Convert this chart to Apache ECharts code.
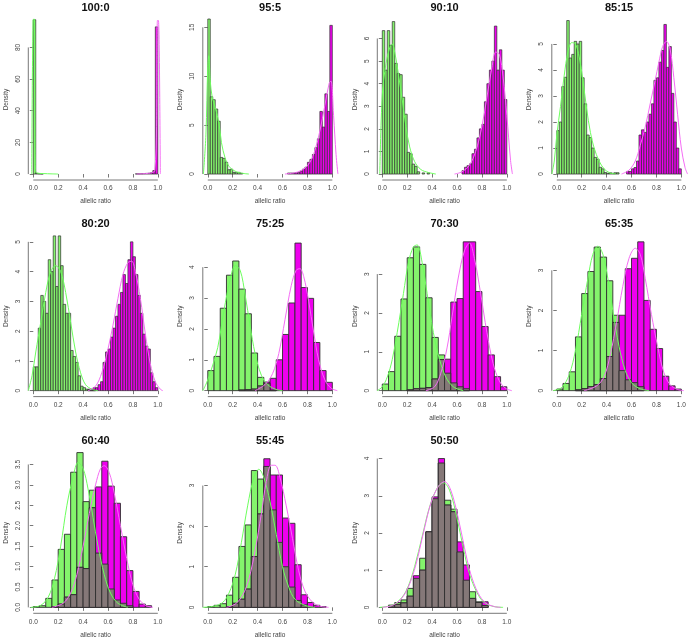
<!DOCTYPE html>
<html><head><meta charset="utf-8">
<script src="https://cdn.jsdelivr.net/npm/echarts@6/dist/echarts.min.js"></script>
<style>html,body{margin:0;padding:0;background:#fff}#c{width:689px;height:640px}</style>
</head><body><div id="c"></div>
<script>
// ---------------- data ----------------
const titles = ['100:0','95:5','90:10','85:15','80:20','75:25','70:30','65:35','60:40','55:45','50:50'];
const xTicks = [0, 0.2, 0.4, 0.6, 0.8, 1.0];
const yLims = [94.2, 15.24, 6.6, 5.73, 5.0, 4.82, 3.83, 3.71, 3.645, 3.665, 4.0];
const yTicks = [[0,20,40,60,80],[0,5,10,15],[0,1,2,3,4,5,6],[0,1,2,3,4,5],[0,1,2,3,4,5],[0,1,2,3,4],[0,1,2,3],[0,1,2,3],[0,0.5,1,1.5,2,2.5,3,3.5],[0,1,2,3],[0,1,2,3,4]];
const yDecimals = [0,0,0,0,0,0,0,0,1,0,0];
const binWidths = [0.02,0.02,0.02,0.02,0.02,0.05,0.05,0.05,0.05,0.05,0.05];
const greenStarts = [0,0,0,0,0,0,0,0,0,0,0.05];
const magentaStarts = [0.82,0.64,0.64,0.56,0.44,0.25,0.2,0.15,0.15,0.15,0.05];

const green100_0 = [97.5,0.4,0.2,0.1];
const magenta100_0 = [0.1,0.1,0.2,0.3,0.4,0.5,0.8,2.2,93.0];
const green95_5 = [17,7.9,7.6,6.65,5.4,1.7,1.6,1.2,0.44,0.5,0.17,0.14,0.17,0.07];
const magenta95_5 = [0.1,0.1,0.1,0.15,0.15,0.3,0.5,0.7,1.2,1.5,2.0,2.7,3.6,6.4,4.8,8.2,6.4,15.2];
const green90_10 = [6.35,4.6,6.35,5.7,6.75,4.9,4.45,4.4,3.4,2.65,0.96,0.9,0.44,0.34,0.1,0,0.05,0,0.05];
const magenta90_10 = [0.15,0.3,0.37,0.45,0.9,1.1,1.6,2.0,2.2,3.2,4.0,4.6,5.0,6.55,4.6,5.5,4.6,3.3];
const green85_15 = [1.67,2.0,3.36,3.72,5.9,4.46,4.6,5.1,5.0,5.1,3.7,2.7,1.5,1.4,1.0,0.64,0.57,0.26,0.2,0.06,0.03,0.05,0.03,0.05,0.05];
const magenta85_15 = [0.1,0.1,0.2,0.25,0.5,1.5,1.7,1.6,2.0,2.3,2.7,3.6,3.7,4.3,4.75,5.75,4.1,4.9,3.1,2.0,1.0,0.2];
const green80_20 = [0.8,0.8,2.1,3.2,3.0,2.6,4.4,4.0,5.3,3.5,5.3,4.2,2.9,2.6,2.6,1.35,1.15,0.95,0.5,0.15,0.1,0.05,0.05,0.03,0.03];
const magenta80_20 = [0.03,0.05,0.1,0.1,0.2,0.3,0.95,1.3,1.4,1.8,2.1,2.5,2.9,3.3,3.9,3.6,4.4,5.0,4.5,3.9,3.2,2.6,1.9,1.5,1.4,0.6,0.3,0.1];
const green75_25 = [0.65,1.11,2.67,3.74,4.2,3.29,2.49,1.22,0.43,0.24,0.02];
const magenta75_25 = [0.02,0.03,0.05,0.15,0.28,0.4,1.0,1.82,2.84,4.78,3.34,2.99,1.56,0.65,0.27];
const green70_30 = [0.17,0.49,1.4,2.36,3.42,3.7,3.25,2.39,1.37,0.92,0.45,0.2,0.1,0.05];
const magenta70_30 = [0.02,0.05,0.06,0.08,0.3,0.8,0.81,2.28,2.37,3.83,3.83,2.55,1.65,0.92,0.36,0.1];
const green65_35 = [0.04,0.18,0.47,1.34,2.42,2.97,3.58,3.33,2.74,1.88,0.5,0.27,0.2,0.1];
const magenta65_35 = [0.02,0.05,0.1,0.15,0.3,0.85,1.7,1.88,3.04,3.3,3.71,2.25,1.53,1.05,0.36,0.12,0.04];
const green60_40 = [0.02,0.04,0.22,0.67,1.42,1.79,3.31,3.85,2.59,2.87,1.33,1.06,0.45,0.18,0.1,0.04];
const magenta60_40 = [0.02,0.08,0.25,0.31,0.98,0.95,2.44,2.95,3.58,2.97,2.55,1.73,0.9,0.39,0.08,0.04];
const green55_45 = [0.02,0.05,0.09,0.3,0.74,1.5,2.03,3.37,3.16,3.47,2.4,1.6,1.0,0.5,0.17,0.06];
const magenta55_45 = [0.02,0.1,0.2,0.45,1.25,2.3,3.66,3.26,3.26,2.2,2.07,1.05,0.31,0.12,0.05,0.02];
const green50_50 = [0.06,0.13,0.2,0.51,0.78,1.32,2.03,2.92,3.88,2.88,2.64,1.49,0.73,0.42,0.15,0.05];
const magenta50_50 = [0.04,0.08,0.12,0.3,0.85,1.0,2.03,2.97,4.0,2.75,2.57,1.76,1.14,0.24,0.13,0.15];

const greenDens100_0 = [[-0.012,0],[-0.002,97.5],[0.008,98],[0.016,3],[0.03,0.6],[0.08,0.3],[0.15,0.1],[0.2,0]];
const magentaDens100_0 = [[0.83,0],[0.9,0.3],[0.95,0.8],[0.975,2],[0.99,30],[0.997,97],[1.005,97],[1.02,0]];
const greenDens95_5 = [[-0.035,0],[-0.015,4],[0,11],[0.008,12.1],[0.02,9.5],[0.035,7.9],[0.06,6.8],[0.09,5.2],[0.11,3.2],[0.14,1.6],[0.17,0.8],[0.21,0.35],[0.26,0.12],[0.33,0]];
const magentaDens95_5 = [[0.62,0],[0.72,0.2],[0.78,0.6],[0.82,1.2],[0.86,2.4],[0.9,4.4],[0.94,7.0],[0.975,9.3],[0.99,9.5],[1.01,6],[1.03,2],[1.045,0]];
const greenDens90_10 = [[-0.02,0],[0,3.5],[0.03,4.9],[0.06,5.6],[0.08,5.75],[0.1,5.4],[0.13,4.4],[0.16,3.3],[0.19,2.1],[0.22,1.2],[0.26,0.55],[0.31,0.2],[0.37,0.07],[0.43,0]];
const magentaDens90_10 = [[0.58,0],[0.64,0.1],[0.7,0.4],[0.75,1.0],[0.8,2.1],[0.84,3.4],[0.88,4.7],[0.91,5.4],[0.94,5.3],[0.97,4.3],[1.0,2.6],[1.03,0.6],[1.045,0]];
const greenDens85_15 = [[-0.04,0],[-0.02,0.5],[0,1.5],[0.03,2.6],[0.06,3.8],[0.09,4.7],[0.12,5.05],[0.15,5.0],[0.18,4.5],[0.21,3.6],[0.24,2.5],[0.27,1.6],[0.3,1.0],[0.34,0.5],[0.38,0.2],[0.42,0.06],[0.47,0]];
const magentaDens85_15 = [[0.52,0],[0.58,0.15],[0.63,0.5],[0.67,1.1],[0.71,1.8],[0.75,2.7],[0.79,3.6],[0.82,4.3],[0.85,4.9],[0.88,5.1],[0.91,4.8],[0.94,3.7],[0.97,2.3],[1.0,1.0],[1.03,0.25],[1.05,0]];
const greenDens80_20 = [[-0.04,0],[-0.01,0.5],[0.02,1.3],[0.06,2.3],[0.1,3.3],[0.14,4.0],[0.18,4.2],[0.22,4.0],[0.26,3.3],[0.3,2.3],[0.34,1.3],[0.38,0.6],[0.42,0.2],[0.47,0.05],[0.52,0]];
const magentaDens80_20 = [[0.44,0],[0.5,0.15],[0.55,0.6],[0.6,1.4],[0.64,2.2],[0.68,3.1],[0.72,3.9],[0.76,4.3],[0.79,4.35],[0.82,4.0],[0.86,3.1],[0.9,1.9],[0.94,0.9],[0.98,0.3],[1.02,0.05],[1.04,0]];
const greenDens75_25 = [[-0.04,0],[-0.01,0.25],[0.03,0.7],[0.08,1.4],[0.13,2.6],[0.18,3.6],[0.22,4.05],[0.26,3.9],[0.3,3.1],[0.34,2.1],[0.38,1.2],[0.43,0.5],[0.48,0.2],[0.54,0.05],[0.6,0]];
const magentaDens75_25 = [[0.38,0],[0.46,0.2],[0.52,0.55],[0.57,1.2],[0.62,2.3],[0.67,3.4],[0.71,3.9],[0.74,3.95],[0.77,3.7],[0.81,2.9],[0.85,1.9],[0.89,1.0],[0.94,0.35],[0.99,0.08],[1.04,0]];
const greenDens70_30 = [[-0.04,0],[0.0,0.1],[0.04,0.35],[0.08,0.8],[0.12,1.5],[0.17,2.5],[0.21,3.3],[0.25,3.7],[0.28,3.75],[0.32,3.3],[0.36,2.5],[0.41,1.5],[0.46,0.8],[0.51,0.35],[0.57,0.1],[0.65,0]];
const magentaDens70_30 = [[0.35,0],[0.42,0.1],[0.47,0.45],[0.52,1.1],[0.56,1.9],[0.61,2.9],[0.66,3.6],[0.7,3.8],[0.74,3.4],[0.79,2.5],[0.84,1.5],[0.89,0.7],[0.94,0.25],[0.99,0.06],[1.04,0]];
const greenDens65_35 = [[-0.03,0],[0.04,0.08],[0.1,0.4],[0.15,1.0],[0.2,1.9],[0.25,2.8],[0.29,3.4],[0.33,3.6],[0.37,3.4],[0.41,2.8],[0.45,2.0],[0.5,1.1],[0.55,0.5],[0.6,0.2],[0.66,0.06],[0.74,0]];
const magentaDens65_35 = [[0.22,0],[0.32,0.12],[0.38,0.35],[0.43,0.9],[0.48,1.7],[0.53,2.6],[0.58,3.3],[0.63,3.55],[0.67,3.4],[0.71,2.8],[0.76,1.9],[0.81,1.1],[0.86,0.45],[0.91,0.15],[0.97,0.03],[1.02,0]];
const greenDens60_40 = [[-0.02,0],[0.06,0.05],[0.12,0.25],[0.17,0.7],[0.22,1.5],[0.27,2.5],[0.32,3.2],[0.36,3.55],[0.4,3.4],[0.44,2.9],[0.48,2.2],[0.52,1.5],[0.57,0.8],[0.62,0.35],[0.68,0.1],[0.76,0]];
const magentaDens60_40 = [[0.15,0],[0.24,0.1],[0.3,0.35],[0.35,0.8],[0.4,1.5],[0.45,2.3],[0.5,3.0],[0.54,3.4],[0.57,3.47],[0.61,3.3],[0.65,2.8],[0.7,2.0],[0.75,1.2],[0.8,0.55],[0.85,0.2],[0.9,0.05],[0.96,0]];
const greenDens55_45 = [[-0.04,0],[0.05,0.03],[0.12,0.12],[0.17,0.35],[0.22,0.8],[0.27,1.6],[0.32,2.5],[0.37,3.2],[0.41,3.4],[0.45,3.2],[0.5,2.6],[0.55,1.8],[0.6,1.0],[0.65,0.5],[0.7,0.2],[0.78,0.05],[0.86,0]];
const magentaDens55_45 = [[0.15,0],[0.22,0.08],[0.28,0.3],[0.33,0.7],[0.38,1.4],[0.43,2.3],[0.47,3.1],[0.51,3.5],[0.54,3.5],[0.58,3.2],[0.63,2.5],[0.68,1.7],[0.73,0.9],[0.78,0.4],[0.84,0.13],[0.9,0.03],[0.97,0]];
const greenDens50_50 = [[-0.02,0],[0.07,0.05],[0.14,0.2],[0.2,0.5],[0.26,1.1],[0.32,1.9],[0.38,2.7],[0.44,3.2],[0.49,3.35],[0.54,3.15],[0.6,2.4],[0.65,1.6],[0.7,0.9],[0.76,0.4],[0.82,0.12],[0.9,0.02],[0.97,0]];
const magentaDens50_50 = [[0.0,0],[0.08,0.05],[0.15,0.22],[0.21,0.55],[0.27,1.15],[0.33,2.0],[0.39,2.8],[0.45,3.25],[0.5,3.38],[0.55,3.15],[0.61,2.4],[0.66,1.6],[0.71,0.9],[0.77,0.38],[0.83,0.12],[0.9,0.02],[0.95,0]];

const greenHists = [green100_0,green95_5,green90_10,green85_15,green80_20,green75_25,green70_30,green65_35,green60_40,green55_45,green50_50];
const magentaHists = [magenta100_0,magenta95_5,magenta90_10,magenta85_15,magenta80_20,magenta75_25,magenta70_30,magenta65_35,magenta60_40,magenta55_45,magenta50_50];
const greenDens = [greenDens100_0,greenDens95_5,greenDens90_10,greenDens85_15,greenDens80_20,greenDens75_25,greenDens70_30,greenDens65_35,greenDens60_40,greenDens55_45,greenDens50_50];
const magentaDens = [magentaDens100_0,magentaDens95_5,magentaDens90_10,magentaDens85_15,magentaDens80_20,magentaDens75_25,magentaDens70_30,magentaDens65_35,magentaDens60_40,magentaDens55_45,magentaDens50_50];

// ---------------- layout & style ----------------
const FONT = '"Liberation Sans", Arial, Helvetica, sans-serif';
const colLeft = [28.3, 202.8, 377.3, 551.8];
const plotW = 134.5;
const rowTop = [19, 235.9, 452.6];
const plotH = [161, 160.7, 160.7];
const GREEN = '#84F46C', MAGENTA = '#EE00EE', OVERLAP = '#857878';
const GREEN_LINE = '#6CFF5C', MAGENTA_LINE = '#F56CF5';
const BORDER = '#2e2e2e', AXIS = '#555';

function bins(start, w, vals) {
  return vals.map((v, k) => [+(start + k * w).toFixed(4), +(start + (k + 1) * w).toFixed(4), v]);
}
function overlap(g, m) {
  const out = [];
  g.forEach(b => {
    const mb = m.find(x => Math.abs(x[0] - b[0]) < 1e-6);
    if (mb) out.push([b[0], b[1], Math.min(b[2], mb[2])]);
  });
  return out;
}
function barRender(fill, yMax, lw) {
  return function (params, api) {
    const v = Math.min(api.value(2), yMax);
    if (!(v > 0)) return null;
    const p0 = api.coord([api.value(0), 0]);
    const p1 = api.coord([api.value(1), v]);
    return {type: 'rect', shape: {x: p0[0], y: p1[1], width: p1[0] - p0[0], height: p0[1] - p1[1]},
      style: {fill: fill, stroke: BORDER, lineWidth: lw}};
  };
}

const grids = [], xAxes = [], yAxes = [], series = [], graphics = [];
titles.forEach((t, i) => {
  const r = Math.floor(i / 4), c = i % 4;
  const L = yLims[i];
  const yMin = -0.04 * L, yMax = 1.04 * L;
  const lw = binWidths[i] < 0.03 ? 0.7 : 0.9;
  grids.push({left: colLeft[c], top: rowTop[r], width: plotW, height: plotH[r], containLabel: false});
  xAxes.push({gridIndex: i, type: 'value', min: -0.04, max: 1.04,
    axisLine: {show: false}, splitLine: {show: false},
    axisTick: {show: true, customValues: xTicks, length: 3.5, lineStyle: {color: AXIS, width: 0.8}},
    axisLabel: {customValues: xTicks, formatter: v => v.toFixed(1), fontSize: 6.5, color: '#444', margin: 5, fontFamily: FONT},
    name: 'allelic ratio', nameLocation: 'middle', nameGap: 18,
    nameTextStyle: {fontSize: 6.5, color: '#444', fontFamily: FONT}});
  yAxes.push({gridIndex: i, type: 'value', min: yMin, max: yMax,
    axisLine: {show: false}, splitLine: {show: false},
    axisTick: {show: true, customValues: yTicks[i], length: 3.5, lineStyle: {color: AXIS, width: 0.8}},
    axisLabel: {customValues: yTicks[i], formatter: v => v.toFixed(yDecimals[i]), rotate: 90, fontSize: 6.5, color: '#444', margin: 7, fontFamily: FONT},
    name: 'Density', nameLocation: 'middle', nameGap: 19, nameRotate: 90,
    nameTextStyle: {fontSize: 6.5, color: '#444', fontFamily: FONT}});

  const g = bins(greenStarts[i], binWidths[i], greenHists[i]);
  const m = bins(magentaStarts[i], binWidths[i], magentaHists[i]);
  const o = overlap(g, m);
  const common = {type: 'custom', coordinateSystem: 'cartesian2d', xAxisIndex: i, yAxisIndex: i,
    encode: {x: [0, 1], y: 2}, silent: true, animation: false};
  series.push(Object.assign({}, common, {name: 'green' + i, data: g, renderItem: barRender(GREEN, yMax, lw)}));
  series.push(Object.assign({}, common, {name: 'magenta' + i, data: m, renderItem: barRender(MAGENTA, yMax, lw)}));
  series.push(Object.assign({}, common, {name: 'overlap' + i, data: o, renderItem: barRender(OVERLAP, yMax, lw)}));
  const lineCommon = {type: 'line', xAxisIndex: i, yAxisIndex: i, showSymbol: false, symbol: 'none',
    smooth: 0.35, clip: true, silent: true, animation: false};
  series.push(Object.assign({}, lineCommon, {data: greenDens[i], lineStyle: {color: GREEN_LINE, width: 1}}));
  series.push(Object.assign({}, lineCommon, {data: magentaDens[i], lineStyle: {color: MAGENTA_LINE, width: 1}}));
  // R-style axis lines (span first to last tick)
  const yt = yTicks[i];
  series.push({type: 'custom', coordinateSystem: 'cartesian2d', xAxisIndex: i, yAxisIndex: i,
    silent: true, animation: false, clip: false, data: [[0, 0]],
    renderItem: function (params, api) {
      const a = api.coord([xTicks[0], yMin]), b = api.coord([xTicks[xTicks.length - 1], yMin]);
      const cc = api.coord([-0.04, yt[0]]), d = api.coord([-0.04, yt[yt.length - 1]]);
      return {type: 'group', children: [
        {type: 'line', shape: {x1: a[0], y1: a[1], x2: b[0], y2: b[1]}, style: {stroke: AXIS, lineWidth: 0.8}},
        {type: 'line', shape: {x1: cc[0], y1: cc[1], x2: d[0], y2: d[1]}, style: {stroke: AXIS, lineWidth: 0.8}}
      ]};
    }});
  graphics.push({type: 'text', x: colLeft[c] + plotW / 2, y: rowTop[r] - 11.5,
    style: {text: t, fill: '#111', font: 'bold 11px ' + FONT, textAlign: 'center', textVerticalAlign: 'middle', align: 'center', verticalAlign: 'middle'}});
});

const chart = echarts.init(document.getElementById('c'), null, {renderer: 'canvas'});
chart.setOption({animation: false, backgroundColor: '#fff', grid: grids, xAxis: xAxes, yAxis: yAxes, series: series, graphic: graphics});
</script>
</body></html>
